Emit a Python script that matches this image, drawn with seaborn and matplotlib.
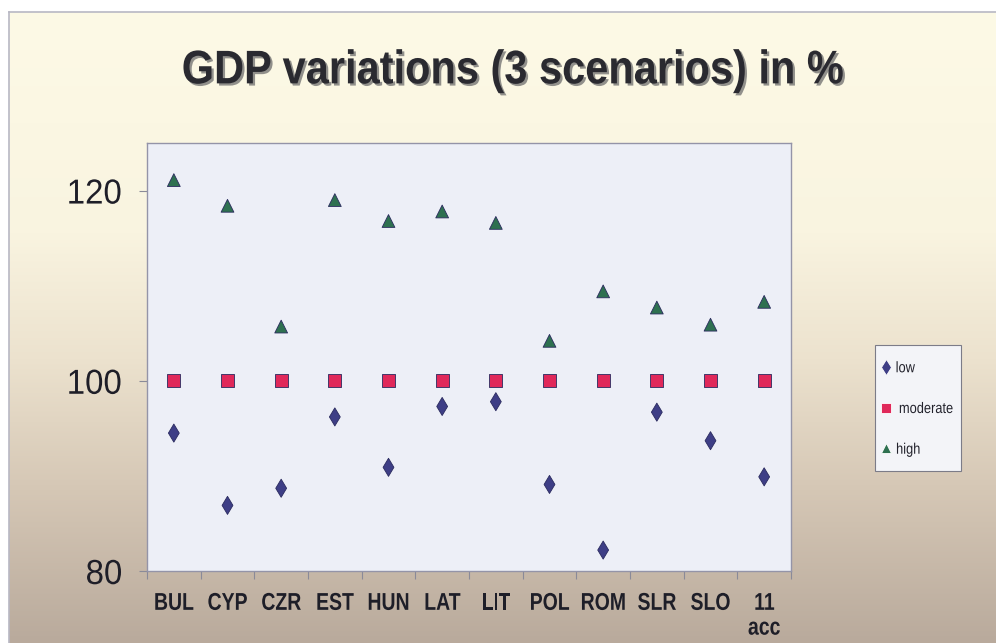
import numpy as np
import pandas as pd
import matplotlib
matplotlib.use("Agg")
import matplotlib.pyplot as plt
import matplotlib.patheffects as pe
from matplotlib.patches import Rectangle
from matplotlib.transforms import Affine2D
from matplotlib.colors import LinearSegmentedColormap, to_rgba
from matplotlib.ticker import FixedLocator
import seaborn as sns

# GDP index per accession country under three scenarios (moderate = 100)
countries = ["BUL", "CYP", "CZR", "EST", "HUN", "LAT", "LIT", "POL", "ROM", "SLR", "SLO", "11\nacc"]
low = [94.5, 86.9, 88.7, 96.2, 90.9, 97.3, 97.8, 89.1, 82.2, 96.7, 93.7, 89.9]
moderate = [100, 100, 100, 100, 100, 100, 100, 100, 100, 100, 100, 100]
high = [121.1, 118.4, 105.7, 119.0, 116.8, 117.8, 116.6, 104.2, 109.4, 107.7, 105.9, 108.3]
scenarios = ["low", "moderate", "high"]
y_ticks = [80, 100, 120]
title = "GDP variations (3 scenarios) in %"

df = pd.DataFrame({
    "country": countries * 3,
    "value": low + moderate + high,
    "scenario": [s for s in scenarios for _ in countries],
})


class Squeeze(pe.AbstractPathEffect):
    """Draw text glyphs horizontally condensed about their own centre,
    optionally offset and recoloured (for a drop shadow)."""

    def __init__(self, sx, offset=(0, 0), color=None, alpha=None):
        super().__init__()
        self.sx = sx
        self.off = offset
        self.color = None if color is None else to_rgba(color)
        self.alpha = alpha

    def draw_path(self, renderer, gc, tpath, affine, rgbFace=None):
        ext = tpath.get_extents(affine)
        cx = 0.5 * (ext.x0 + ext.x1)
        ox = renderer.points_to_pixels(self.off[0])
        oy = renderer.points_to_pixels(self.off[1])
        tr = affine + Affine2D().translate(-cx, 0).scale(self.sx, 1).translate(cx + ox, oy)
        gc0 = renderer.new_gc()
        gc0.copy_properties(gc)
        face = rgbFace
        if self.color is not None:
            face = self.color
            gc0.set_foreground(self.color)
        if self.alpha is not None:
            gc0.set_alpha(self.alpha)
        renderer.draw_path(gc0, tpath, tr, face)
        gc0.restore()


sns.set_theme(style="white")
plt.rcParams["font.family"] = ["Liberation Sans", "DejaVu Sans"]

fig = plt.figure(figsize=(9.96, 6.43), dpi=100, facecolor="white")

# slide background: cream at the top fading to a warm grey-brown at the bottom
bg = fig.add_axes([9 / 996, 0, 1 - 9 / 996, 1 - 12 / 643], zorder=-10)
grad_cmap = LinearSegmentedColormap.from_list(
    "slide",
    [(0.0, "#FDFAE6"), (0.35, "#F9F4E0"), (0.55, "#ECE2CE"),
     (0.75, "#D6C8B6"), (1.0, "#B9AA9C")],
)
bg.imshow(np.linspace(0, 1, 256)[:, None], aspect="auto", cmap=grad_cmap,
          extent=[0, 1, 0, 1], origin="upper")
bg.set_xticks([])
bg.set_yticks([])
for side in ["right", "bottom"]:
    bg.spines[side].set_visible(False)
for side in ["top", "left"]:
    bg.spines[side].set_color("#B8B8C4")
    bg.spines[side].set_linewidth(1.2)

ax = fig.add_axes([147 / 996, 1 - 571 / 643, 644 / 996, 428 / 643])
ax.set_facecolor("#EDEFF7")

palette = {"low": "#3E3E86", "moderate": "#E0285A", "high": "#2E7050"}
markers = {"low": "d", "moderate": "s", "high": "^"}
sns.scatterplot(data=df, x="country", y="value", hue="scenario", style="scenario",
                hue_order=scenarios, style_order=scenarios,
                palette=palette, markers=markers, s=95, linewidth=0.6,
                ax=ax, legend=True)
edge = {"low": "#2A2A5E", "moderate": "#C01848", "high": "#1E4E38"}
msize = {"low": 85, "moderate": 95, "high": 110}
for coll, sc in zip(ax.collections, scenarios):
    coll.set_edgecolor(edge[sc])
    coll.set_sizes([msize[sc]])

ax.set_xlim(-0.5, len(countries) - 0.5)
ax.set_ylim(80, 125)
ax.set_yticks(y_ticks)
ax.set_xlabel("")
ax.set_ylabel("")

# category separators as tick marks, labels centred in each slot
ax.xaxis.set_minor_locator(FixedLocator(np.arange(-0.5, len(countries), 1.0)))
ax.tick_params(axis="x", which="major", length=0, pad=15,
               labelsize=17.5, labelcolor="#1E1E28")
ax.tick_params(axis="x", which="minor", bottom=True, length=6, width=0.8, color="#8A8A98")
ax.tick_params(axis="y", left=True, length=6, width=0.8, color="#8A8A98",
               pad=11, labelsize=25, labelcolor="#1E1E28")
for lab in ax.get_xticklabels():
    lab.set_fontweight("bold")
    lab.set_linespacing(1.1)
    lab.set_path_effects([Squeeze(0.8)])
for lab in ax.get_yticklabels():
    lab.set_path_effects([Squeeze(0.95)])

for sp in ax.spines.values():
    sp.set_color("#9494A8")
    sp.set_linewidth(1.0)

# legend box to the right of the plot
fig.patches.append(Rectangle((875 / 996, 1 - 471 / 643), 86 / 996, 126 / 643,
                             transform=fig.transFigure, facecolor="#F3F4F8",
                             edgecolor="#7C7C88", linewidth=0.8, zorder=-5))
sns.move_legend(ax, "center left", bbox_to_anchor=(880 / 996, 1 - 409 / 643),
                bbox_transform=fig.transFigure, title=None, frameon=False,
                fontsize=11, labelspacing=1.75, handletextpad=0.05,
                handlelength=0.85, borderpad=0, borderaxespad=0,
                markerscale=0.8)
leg = ax.get_legend()
for t in leg.get_texts():
    t.set_color("#22222C")
    t.set_path_effects([Squeeze(0.84)])

fig.text(0.515, 0.889, title, ha="center", va="center", fontsize=34,
         fontweight="bold", color="#2A2A30",
         path_effects=[Squeeze(0.88, offset=(1.6, -1.6), color="#6E6E6E", alpha=0.75),
                       Squeeze(0.88)])

fig.savefig("out.png", dpi=100, facecolor="white")
